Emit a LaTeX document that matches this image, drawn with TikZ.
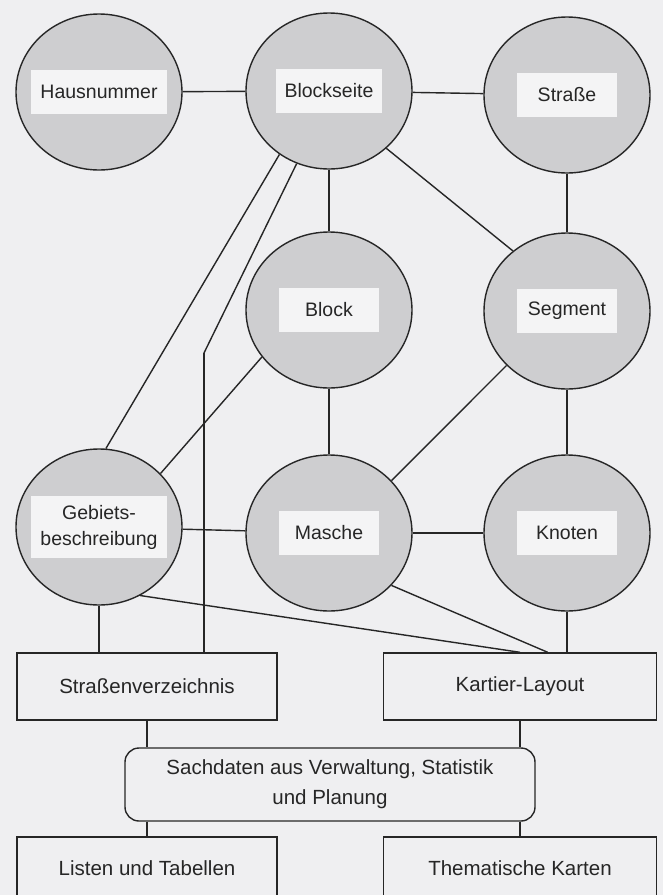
\documentclass[tikz,border=0pt]{standalone}
\usepackage{fontspec}
\setmainfont{Liberation Sans}
\usetikzlibrary{shapes.geometric, positioning}

\definecolor{papier}{RGB}{239,239,241}
\definecolor{raster}{RGB}{206,206,208}
\definecolor{feld}{RGB}{244,244,245}
\definecolor{strich}{RGB}{38,38,38}

\begin{document}
\begin{tikzpicture}[x=1pt, y=-1pt, line width=1.4pt, color=strich,
    objekt/.style={ellipse, draw, fill=raster, minimum width=166pt, minimum height=156pt, inner sep=0pt},
    lbl/.style={fill=feld, inner xsep=9pt, inner ysep=9pt, minimum width=100pt, minimum height=44pt, align=center, font=\fontsize{19.5}{26}\selectfont},
    ausgabe/.style={rectangle, draw, fill=papier, minimum height=67pt, align=center, font=\fontsize{20.5}{30}\selectfont}]
    \fill[papier] (0,0) rectangle (663,895);
    \useasboundingbox (0,0) rectangle (663,895);

    \node[objekt, label={[lbl]center:Hausnummer}] (haus) at (99,92) {};
    \node[objekt, label={[lbl]center:Blockseite}] (bseite) at (329,91) {};
    \node[objekt, label={[lbl]center:Straße}] (strasse) at (567,95) {};
    \node[objekt, label={[lbl]center:Block}] (block) at (329,310) {};
    \node[objekt, label={[lbl]center:Segment}] (segment) at (567,311) {};
    \node[objekt, label={[lbl]center:Gebiets-\\beschreibung}] (gebiet) at (99,527) {};
    \node[objekt, label={[lbl]center:Masche}] (masche) at (329,533) {};
    \node[objekt, label={[lbl]center:Knoten}] (knoten) at (567,533) {};
    \coordinate (knick) at (204,353);

    \node[ausgabe, minimum width=260pt] (verz) at (147,686.5) {Straßenverzeichnis};
    \node[ausgabe, minimum width=273pt] (kartier) at (520,686.5) {Kartier-Layout};
    \node[ausgabe, rounded corners=14pt, minimum width=410pt, minimum height=73pt] (sach) at (330,784.5) {Sachdaten aus Verwaltung, Statistik\\und Planung};
    \node[ausgabe, minimum width=260pt, minimum height=62pt] (listen) at (147,868) {Listen und Tabellen};
    \node[ausgabe, minimum width=273pt, minimum height=62pt] (thema) at (520,868) {Thematische Karten};

    \path[draw]
    (haus) edge (bseite)
    (bseite) edge (strasse)
    (bseite) edge (block)
    (strasse) edge (segment)
    (bseite.-45) edge (segment.132)
    (bseite.232) edge (gebiet.85)
    (bseite.246) edge (knick)
    (knick) edge (knick |- verz.north)
    (block.215) edge (gebiet.41)
    (block) edge (masche)
    (segment.222) edge (masche.40)
    (segment) edge (knoten)
    (gebiet) edge (masche)
    (masche) edge (knoten)
    (gebiet.-59) edge (kartier.north)
    (masche.-40) edge (kartier.51)
    (gebiet.south) edge (gebiet.south |- verz.north)
    (knoten.south) edge (knoten.south |- kartier.north)
    % untere Ebene
    (verz.south) edge (verz.south |- sach.north)
    (kartier.south) edge (kartier.south |- sach.north)
    (sach.south -| listen.north) edge (listen.north)
    (sach.south -| thema.north) edge (thema.north);
\end{tikzpicture}
\end{document}
